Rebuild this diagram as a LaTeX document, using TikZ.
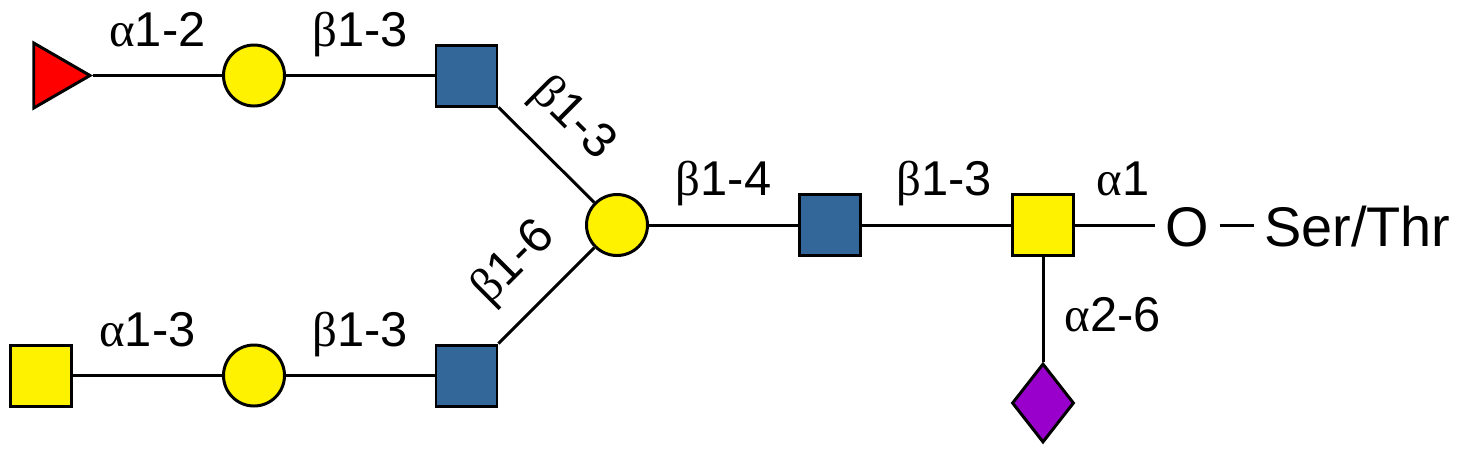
\documentclass[tikz,border=0pt]{standalone}
\usepackage{fontspec}
\setmainfont{Liberation Sans}
\newfontfamily\grk{Liberation Serif}
\newcommand{\lalpha}{{\grk α}}
\newcommand{\lbeta}{{\grk β}}
\usetikzlibrary{shapes.geometric, positioning}
\definecolor{glcnacblue}{RGB}{51,102,153}
\definecolor{neuacpurple}{RGB}{153,0,204}

\begin{document}
\begin{tikzpicture}[line width=0.85pt,
	sq/.style = {draw, rectangle, minimum size=0.61cm, inner sep=0pt},
	glcnac/.style = {sq, fill=glcnacblue},
	galnac/.style = {sq, fill=yellow},
	gal/.style = {draw, circle, minimum size=0.61cm, inner sep=0pt, fill=yellow},
	fuc/.style = {draw, regular polygon, regular polygon sides=3, shape border rotate=-90, minimum size=0.75cm, inner sep=0pt, fill=red},
	neuac/.style = {draw, diamond, minimum width=0.62cm, minimum height=0.79cm, inner sep=0pt, fill=neuacpurple},
	link/.style = {font=\fontsize{13.9}{16}\selectfont, inner sep=0pt, text depth=0pt},
	aa/.style = {font=\fontsize{15.9}{18}\selectfont, inner sep=0.09cm, text height=0.42cm, text depth=0pt}]
	\useasboundingbox (0,0) rectangle (14.66,4.49);
	\node[galnac] (core) at (10.43,2.24) {};
	\node[glcnac] (glcM) at (8.30,2.24) {};
	\node[gal] (galM) at (6.17,2.24) {};
	\node[glcnac] (glcT) at (4.665,3.735) {};
	\node[gal] (galT) at (2.54,3.735) {};
	\node[fuc] (fuc) at (0.525,3.735) {};
	\node[glcnac] (glcB) at (4.665,0.735) {};
	\node[gal] (galB) at (2.54,0.735) {};
	\node[galnac] (galnacB) at (0.41,0.735) {};
	\node[neuac] (sia) at (10.43,0.46) {};
	\node[aa] (o) at (11.875,2.24) {O};
	\node[aa, right=0.34cm of o] (ser) {Ser/Thr};
	\draw (fuc) -- node[link, above=0.28cm] {\lalpha1-2} (galT);
	\draw (galT) -- node[link, above=0.28cm] {\lbeta1-3} (glcT);
	\draw (glcT) -- node[link, sloped, pos=0.45, above=0.3cm] {\lbeta1-3} (galM);
	\draw (galnacB) -- node[link, above=0.28cm] {\lalpha1-3} (galB);
	\draw (galB) -- node[link, above=0.28cm] {\lbeta1-3} (glcB);
	\draw (glcB) -- node[link, sloped, above=0.32cm] {\lbeta1-6} (galM);
	\draw (galM) -- node[link, above=0.28cm] {\lbeta1-4} (glcM);
	\draw (glcM) -- node[link, pos=0.55, above=0.28cm] {\lbeta1-3} (core);
	\draw (core) -- node[link, pos=0.6, above=0.28cm] {\lalpha1} (o);
	\draw (o) -- (ser);
	\draw (core) -- node[link, right=0.2cm, yshift=-0.05cm] {\lalpha2-6} (sia);
\end{tikzpicture}
\end{document}
